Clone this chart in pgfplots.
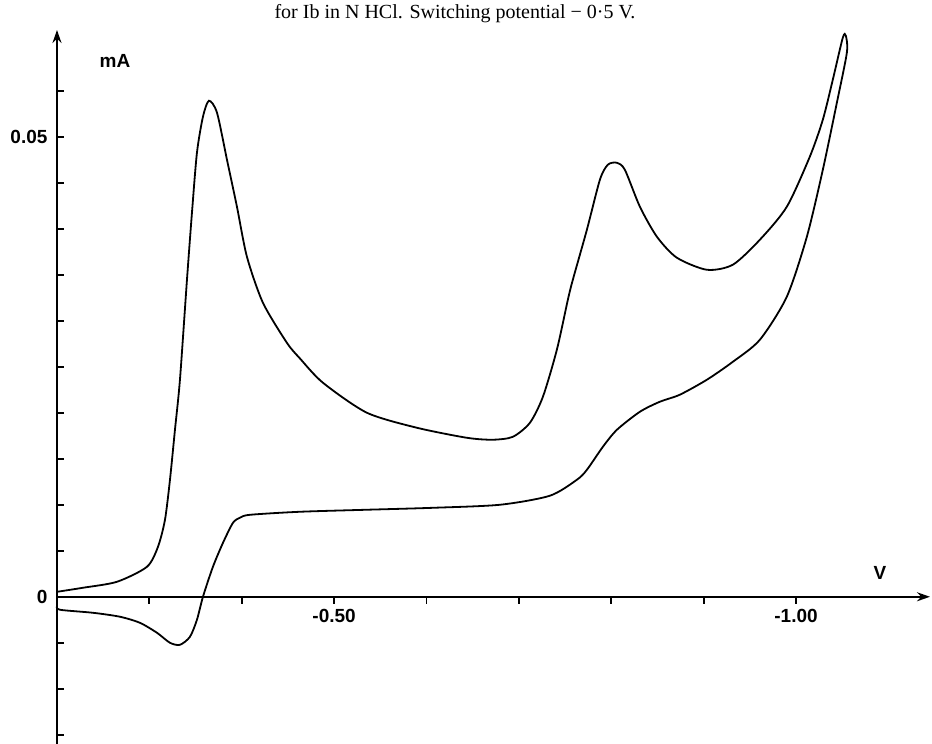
\documentclass[border=0pt]{standalone}
\usepackage{pgfplots}
\pgfplotsset{compat=1.18}
\usepackage{fontspec}
\setmainfont{Liberation Serif}
\setsansfont{Liberation Sans}
\usetikzlibrary{arrows.meta}

\begin{document}
\begin{tikzpicture}
\begin{axis}[
    at={(0pt,0pt)}, anchor=south west,
    scale only axis,
    width=873pt, height=714pt,
    x dir=reverse,
    xmin=-1.145, xmax=-0.2,
    ymin=-0.016, ymax=0.0616,
    axis lines=middle,
    axis line style={line width=2pt},
    x axis line style={{Stealth[length=13pt,width=9pt]}-},
    y axis line style={-{Stealth[length=13pt,width=9pt]}},
    xtick={-1.0,-0.9,-0.8,-0.7,-0.6,-0.5,-0.4,-0.3},
    xticklabels={-1.00,,,,,-0.50,,},
    ytick={-0.015,-0.01,-0.005,0,0.005,0.01,0.015,0.02,0.025,0.03,0.035,0.04,0.045,0.05,0.055},
    yticklabels={,,,0,,,,,,,,,,0.05,},
    scaled y ticks=false,
    scaled x ticks=false,
    hide obscured x ticks=false,
    hide obscured y ticks=false,
    tick align=outside,
    major tick length=7pt,
    tick style={line width=1.8pt, black},
    ticklabel style={font=\sffamily\bfseries\fontsize{19}{19}\selectfont},
    xticklabel style={yshift=-2pt},
    yticklabel style={xshift=1pt},
    clip=false,
]
% cyclic voltammogram: forward (cathodic) sweep, then reverse sweep
\addplot[black, line width=1.8pt, smooth, tension=0.45] coordinates {
    (-0.2000,0.00054) (-0.2281,0.00098) (-0.2649,0.00163) (-0.2974,0.00326)
    (-0.3093,0.00543) (-0.3169,0.00837) (-0.3223,0.01272) (-0.3277,0.01815)
    (-0.3331,0.02359) (-0.3407,0.03446) (-0.3461,0.04174) (-0.3515,0.04826)
    (-0.3580,0.05217) (-0.3645,0.05391) (-0.3732,0.05261) (-0.3840,0.04750)
    (-0.3948,0.04239) (-0.4056,0.03696) (-0.4229,0.03196) (-0.4489,0.02760)
    (-0.4630,0.02590) (-0.4879,0.02326) (-0.5355,0.02000) (-0.5896,0.01837)
    (-0.6437,0.01728) (-0.6719,0.01707) (-0.6935,0.01739) (-0.7119,0.01891)
    (-0.7260,0.02174) (-0.7411,0.02685) (-0.7530,0.03228) (-0.7584,0.03446)
    (-0.7736,0.03989) (-0.7877,0.04533) (-0.7963,0.04696) (-0.8061,0.04717)
    (-0.8147,0.04641) (-0.8310,0.04239) (-0.8494,0.03913) (-0.8710,0.03685)
    (-0.9035,0.03554) (-0.9316,0.03609) (-0.9608,0.03880) (-0.9900,0.04239)
    (-1.0149,0.04783) (-1.0290,0.05185) (-1.0398,0.05620) (-1.0506,0.06076)
    (-1.0539,0.06098)
    (-1.0550,0.05913) (-1.0442,0.05370) (-1.0290,0.04641) (-1.0117,0.03913)
    (-0.9900,0.03261) (-0.9608,0.02793) (-0.9316,0.02554) (-0.9035,0.02359)
    (-0.8742,0.02196) (-0.8526,0.02120) (-0.8310,0.02011) (-0.8061,0.01815)
    (-0.7909,0.01630) (-0.7736,0.01380) (-0.7628,0.01272) (-0.7335,0.01098)
    (-0.6794,0.01000) (-0.6069,0.00967) (-0.5355,0.00946) (-0.4630,0.00924)
    (-0.4089,0.00891) (-0.3981,0.00859) (-0.3905,0.00804) (-0.3797,0.00587)
    (-0.3688,0.00326) (-0.3580,0.00000) (-0.3515,-0.00250) (-0.3439,-0.00435)
    (-0.3331,-0.00522) (-0.3223,-0.00500) (-0.3082,-0.00391) (-0.2898,-0.00283)
    (-0.2682,-0.00217) (-0.2390,-0.00174) (-0.2032,-0.00141) (-0.2000,-0.00100)
};
\node[font=\sffamily\bfseries\fontsize{19}{19}\selectfont] at (axis cs:-0.2628,0.0582) {mA};
\node[font=\sffamily\bfseries\fontsize{19}{19}\selectfont] at (axis cs:-1.0907,0.0026) {V};
\end{axis}
\node[anchor=base, font=\fontsize{20}{20}\selectfont] at (398pt,725pt)
    {for Ib in N HCl. Switching potential − 0·5 V.};
\pgfresetboundingbox
\path[use as bounding box] (-57pt,0pt) rectangle (875pt,744pt);
\end{tikzpicture}
\end{document}
